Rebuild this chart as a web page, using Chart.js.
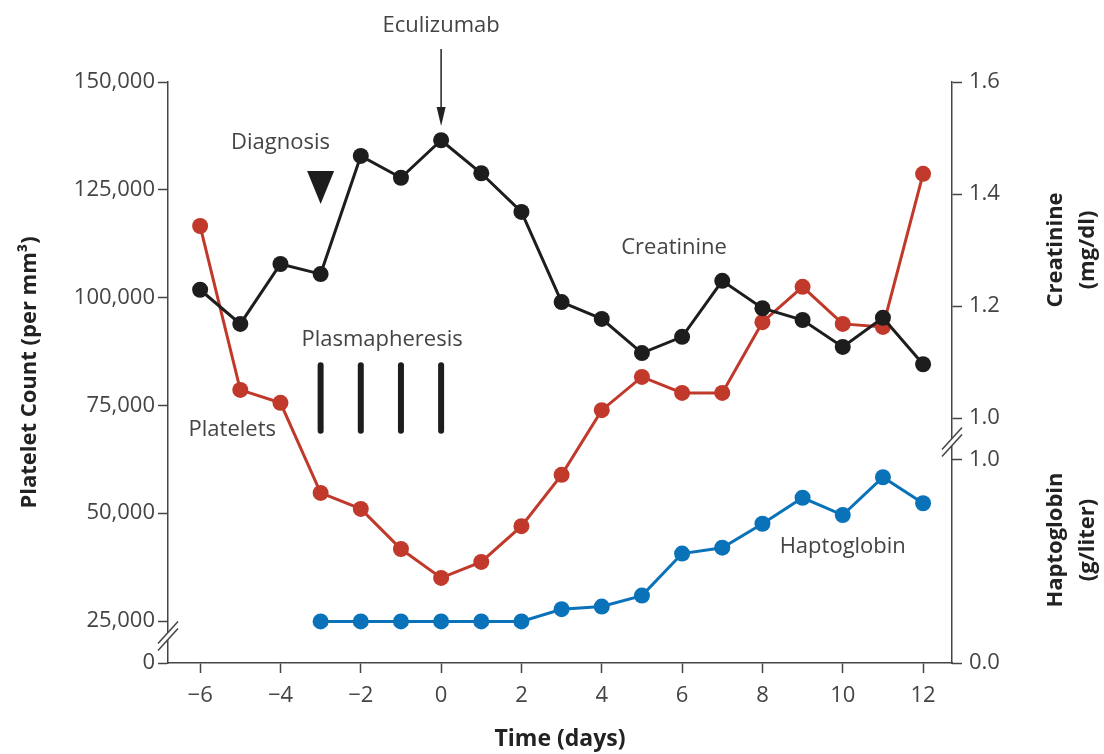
<!DOCTYPE html>
<html>
<head>
<meta charset="utf-8">
<script src="https://cdn.jsdelivr.net/npm/chart.js@4.4.1/dist/chart.umd.min.js"></script>
<style>
  body { margin: 0; background: #fff; }
  #wrap { width: 1104px; height: 754px; position: relative; }
</style>
</head>
<body>
<div id="wrap"><canvas id="chart"></canvas></div>
<script>
// data
const days = [-6, -5, -4, -3, -2, -1, 0, 1, 2, 3, 4, 5, 6, 7, 8, 9, 10, 11, 12];
const platelets = [116600, 78600, 75600, 54700, 51000, 41700, 35000, 38700, 47000, 58900,
                   73900, 81600, 77900, 77900, 94300, 102500, 93900, 93200, 128700];
const creatinine = [1.229, 1.168, 1.275, 1.257, 1.468, 1.429, 1.496, 1.437, 1.368, 1.207,
                    1.177, 1.116, 1.145, 1.245, 1.196, 1.175, 1.127, 1.179, 1.096];
const haptoDays = [-3, -2, -1, 0, 1, 2, 3, 4, 5, 6, 7, 8, 9, 10, 11, 12];
const haptoglobin = [0.205, 0.205, 0.205, 0.205, 0.205, 0.205, 0.265, 0.278, 0.332,
                     0.539, 0.568, 0.686, 0.814, 0.729, 0.915, 0.787];
const plasmaDays = [-3, -2, -1, 0];
const dayTicks = [-6, -4, -2, 0, 2, 4, 6, 8, 10, 12];
const plateletTicks = [25000, 50000, 75000, 100000, 125000, 150000];
const creatinineTicks = [1.0, 1.2, 1.4, 1.6];
const haptoTicks = [0.0, 1.0];

const RED = '#c0392b', BLACK = '#1d1d1d', BLUE = '#0a72b8';
const AXIS = '#444', TEXT = '#444', TITLE = '#222';
const FONT = "'Open Sans', sans-serif";
Chart.defaults.font.family = FONT;

const PLT_MIN = 15260; // bottom of the broken axis, shown as "0"

// annotation spots, in days / platelet units
const notes = [
  { text: 'Diagnosis', day: -4.0, at: 135850 },
  { text: 'Eculizumab', day: 0, at: 163000 },
  { text: 'Plasmapheresis', day: -1.47, at: 90170 },
  { text: 'Platelets', day: -5.2, at: 69300 },
  { text: 'Creatinine', day: 5.8, at: 111500 },
  { text: 'Haptoglobin', day: 10.0, at: 42170 }
];

function line(label, xs, ys, color, axis) {
  return {
    label: label,
    data: xs.map((x, i) => ({ x: x, y: ys[i] })),
    yAxisID: axis,
    borderColor: color,
    backgroundColor: color,
    borderWidth: 3,
    pointRadius: 8,
    pointHoverRadius: 8,
    pointBorderWidth: 0,
    tension: 0,
    clip: false
  };
}

function breakMark(ctx, cx, cy) {
  const dx = 10, dy = 11, gap = 3.5;
  ctx.fillStyle = '#fff';
  ctx.beginPath();
  ctx.moveTo(cx - dx, cy + dy - gap);
  ctx.lineTo(cx + dx, cy - dy - gap);
  ctx.lineTo(cx + dx, cy - dy + gap);
  ctx.lineTo(cx - dx, cy + dy + gap);
  ctx.closePath();
  ctx.fill();
  ctx.strokeStyle = AXIS;
  ctx.lineWidth = 1.5;
  [-gap, gap].forEach(o => {
    ctx.beginPath();
    ctx.moveTo(cx - dx, cy + dy + o);
    ctx.lineTo(cx + dx, cy - dy + o);
    ctx.stroke();
  });
}

const extras = {
  id: 'extras',
  afterLayout(chart) {
    // haptoglobin axis shares the creatinine axis line; widen its label clip box
    const s = chart.scales.yH;
    s.right = s.left + 152;
  },
  afterDraw(chart) {
    const { ctx, chartArea, scales } = chart;
    const px = d => scales.x.getPixelForValue(d);
    const py = v => scales.yP.getPixelForValue(v);
    ctx.save();

    // axis breaks
    breakMark(ctx, chartArea.left, py(25000) + 15);
    const yc1 = scales.yC.getPixelForValue(1.0), yh1 = scales.yH.getPixelForValue(1.0);
    breakMark(ctx, chartArea.right, (yc1 + yh1) / 2 + 3);

    // text notes
    ctx.font = '22px ' + FONT;
    ctx.fillStyle = TEXT;
    ctx.textAlign = 'center';
    ctx.textBaseline = 'middle';
    notes.forEach(n => ctx.fillText(n.text, px(n.day), py(n.at)));

    // plasmapheresis bars
    ctx.strokeStyle = BLACK;
    ctx.lineWidth = 6;
    ctx.lineCap = 'round';
    plasmaDays.forEach(d => {
      ctx.beginPath();
      ctx.moveTo(px(d), py(84300));
      ctx.lineTo(px(d), py(69100));
      ctx.stroke();
    });

    // diagnosis triangle
    const tx = px(-3);
    ctx.fillStyle = BLACK;
    ctx.beginPath();
    ctx.moveTo(tx - 13.5, py(129360));
    ctx.lineTo(tx + 13.5, py(129360));
    ctx.lineTo(tx, py(121700));
    ctx.closePath();
    ctx.fill();

    // eculizumab arrow
    const ax = px(0), tip = py(139800);
    ctx.strokeStyle = TITLE;
    ctx.lineWidth = 1.5;
    ctx.lineCap = 'butt';
    ctx.beginPath();
    ctx.moveTo(ax, py(157650));
    ctx.lineTo(ax, tip - 10);
    ctx.stroke();
    ctx.fillStyle = TITLE;
    ctx.beginPath();
    ctx.moveTo(ax - 4.5, tip - 19);
    ctx.lineTo(ax + 4.5, tip - 19);
    ctx.lineTo(ax, tip);
    ctx.closePath();
    ctx.fill();

    // right-hand axis titles
    ctx.font = 'bold 22px ' + FONT;
    ctx.fillStyle = TITLE;
    [[['Creatinine', '(mg/dl)'], 250], [['Haptoglobin', '(g/liter)'], 540]].forEach(([lines, cy]) => {
      ctx.save();
      ctx.translate(chart.width - 32, cy);
      ctx.rotate(-Math.PI / 2);
      lines.forEach((t, i) => ctx.fillText(t, 0, (i - 0.5) * 32));
      ctx.restore();
    });

    ctx.restore();
  }
};

const tickFont = { family: FONT, size: 22 };
const gridOpts = { drawOnChartArea: false, drawTicks: true, tickLength: 10, tickColor: AXIS, tickWidth: 1.5 };

new Chart(document.getElementById('chart'), {
  type: 'line',
  data: {
    datasets: [
      line('Creatinine', days, creatinine, BLACK, 'yC'),
      line('Platelets', days, platelets, RED, 'yP'),
      line('Haptoglobin', haptoDays, haptoglobin, BLUE, 'yH')
    ]
  },
  options: {
    responsive: true,
    maintainAspectRatio: false,
    animation: false,
    layout: { padding: { top: 82, left: 0, right: 0, bottom: 0 } },
    plugins: { legend: { display: false }, tooltip: { enabled: false } },
    scales: {
      x: {
        type: 'linear',
        min: -6.8,
        max: 12.72,
        afterBuildTicks: s => { s.ticks = dayTicks.map(v => ({ value: v })); },
        afterFit: s => { s.height = 91; },
        ticks: {
          font: tickFont, color: TEXT, padding: 10, maxRotation: 0, autoSkip: false,
          callback: v => String(v).replace('-', '\u2212')
        },
        grid: gridOpts,
        border: { display: true, color: AXIS, width: 1.5 },
        title: {
          display: true, text: 'Time (days)', color: TITLE,
          font: { family: FONT, size: 23, weight: 'bold' }, padding: { top: 0, bottom: 1 }
        }
      },
      yP: {
        position: 'left',
        min: PLT_MIN,
        max: 150000,
        afterBuildTicks: s => { s.ticks = [PLT_MIN].concat(plateletTicks).map(v => ({ value: v })); },
        afterFit: s => { s.width = 168; },
        ticks: {
          font: tickFont, color: TEXT, padding: 3,
          callback: (v, i) => i === 0 ? '0' : v.toLocaleString('en-US')
        },
        grid: gridOpts,
        border: { display: true, color: AXIS, width: 1.5 },
        title: {
          display: true, text: 'Platelet Count (per mm\u00b3)', color: TITLE,
          font: { family: FONT, size: 22, weight: 'bold' }, padding: { top: 17, bottom: 0 }
        }
      },
      yH: {
        position: 'right',
        weight: 0,
        min: 0,
        max: 2.862,
        afterBuildTicks: s => { s.ticks = haptoTicks.map(v => ({ value: v })); },
        afterFit: s => { s.width = 0; },
        ticks: { font: tickFont, color: TEXT, padding: 7, callback: v => v.toFixed(1) },
        grid: gridOpts,
        border: { display: false }
      },
      yC: {
        position: 'right',
        weight: 1,
        min: 0.5625,
        max: 1.6,
        afterBuildTicks: s => { s.ticks = creatinineTicks.map(v => ({ value: v })); },
        afterFit: s => { s.width = 152; },
        ticks: { font: tickFont, color: TEXT, padding: 7, callback: v => v.toFixed(1) },
        grid: gridOpts,
        border: { display: true, color: AXIS, width: 1.5 }
      }
    }
  },
  plugins: [extras]
});
</script>
</body>
</html>
